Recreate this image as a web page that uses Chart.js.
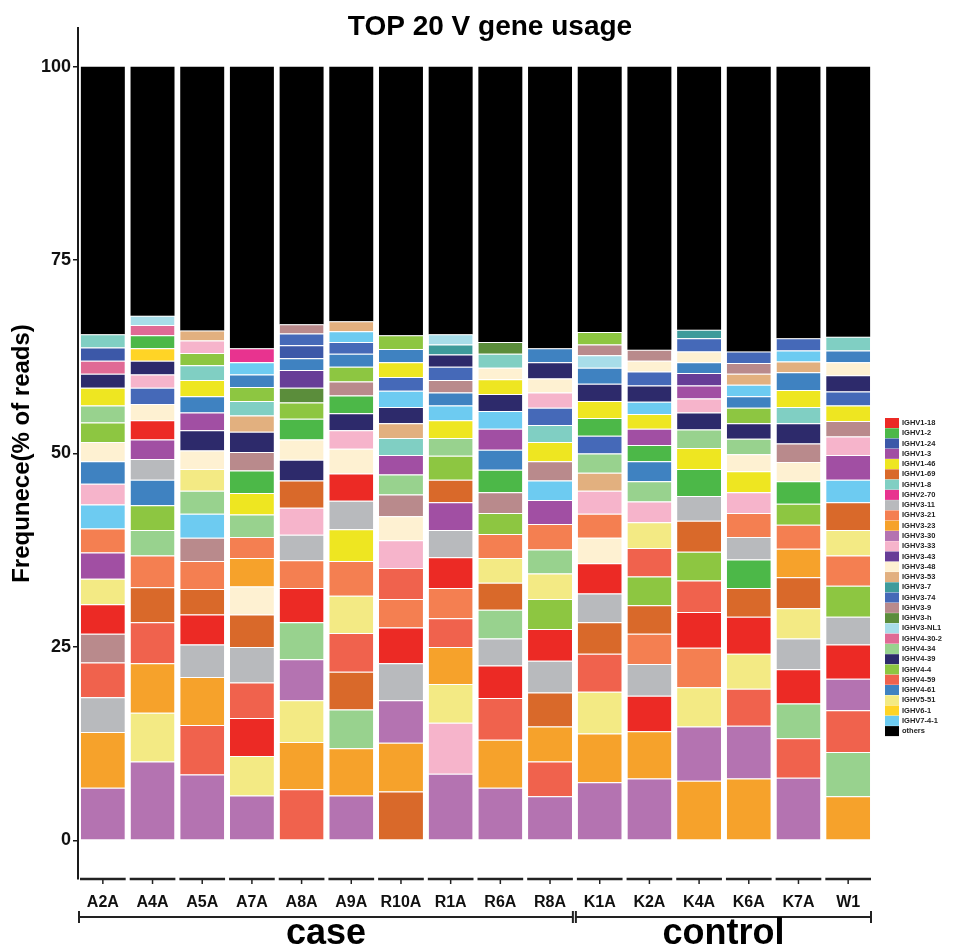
<!DOCTYPE html>
<html>
<head>
<meta charset="utf-8">
<title>TOP 20 V gene usage</title>
<script src="https://cdn.jsdelivr.net/npm/chart.js@4.4.1/dist/chart.umd.min.js"></script>
<style>
  html, body { margin: 0; padding: 0; background: #fff; }
  #wrap { position: relative; width: 967px; height: 946px; }
</style>
</head>
<body>
<div id="wrap"><canvas id="vgene" width="967" height="946"></canvas></div>
<script>
// samples and groups
var samples = ['A2A', 'A4A', 'A5A', 'A7A', 'A8A', 'A9A', 'R10A', 'R1A', 'R6A', 'R8A', 'K1A', 'K2A', 'K4A', 'K6A', 'K7A', 'W1'];
var groupNames = ['case', 'control'];
var groupStart = [0, 10];
var groupEnd = [9, 15];
var yTicks = [0, 25, 50, 75, 100];

// gene legend + colours
var genes = ['IGHV1-18', 'IGHV1-2', 'IGHV1-24', 'IGHV1-3', 'IGHV1-46', 'IGHV1-69', 'IGHV1-8', 'IGHV2-70',
  'IGHV3-11', 'IGHV3-21', 'IGHV3-23', 'IGHV3-30', 'IGHV3-33', 'IGHV3-43', 'IGHV3-48', 'IGHV3-53',
  'IGHV3-7', 'IGHV3-74', 'IGHV3-9', 'IGHV3-h', 'IGHV3-NL1', 'IGHV4-30-2', 'IGHV4-34', 'IGHV4-39',
  'IGHV4-4', 'IGHV4-59', 'IGHV4-61', 'IGHV5-51', 'IGHV6-1', 'IGHV7-4-1'];
var geneColors = ['#ec2a25', '#4cb848', '#3c58a8', '#a14fa3', '#eee621', '#d9692a', '#80cfc3', '#e8338f',
  '#b8babd', '#f47f51', '#f6a22b', '#b473b1', '#f6b4cb', '#673d97', '#fef1d2', '#e2b07f',
  '#3e9b9b', '#4569b8', '#b98a8c', '#5b8d3b', '#a8dde9', '#e06a95', '#98d28e', '#2d2a6b',
  '#8dc641', '#f0624d', '#3f82c1', '#f3ea84', '#ffd426', '#6dcbf1'];

// per sample, bottom to top: [gene, % of reads]
var A2A = [['IGHV3-30', 6.8], ['IGHV3-23', 7.2], ['IGHV3-11', 4.5], ['IGHV4-59', 4.5], ['IGHV3-9', 3.7], ['IGHV1-18', 3.8], ['IGHV5-51', 3.3], ['IGHV1-3', 3.4], ['IGHV3-21', 3.1], ['IGHV7-4-1', 3.1], ['IGHV3-33', 2.7], ['IGHV4-61', 2.9], ['IGHV3-48', 2.5], ['IGHV4-4', 2.5], ['IGHV4-34', 2.2], ['IGHV1-46', 2.3], ['IGHV4-39', 1.8], ['IGHV4-30-2', 1.7], ['IGHV1-24', 1.7], ['IGHV1-8', 1.7]];
var A4A = [['IGHV3-30', 10.2], ['IGHV5-51', 6.3], ['IGHV3-23', 6.4], ['IGHV4-59', 5.3], ['IGHV1-69', 4.5], ['IGHV3-21', 4.1], ['IGHV4-34', 3.3], ['IGHV4-4', 3.2], ['IGHV4-61', 3.3], ['IGHV3-11', 2.7], ['IGHV1-3', 2.5], ['IGHV1-18', 2.5], ['IGHV3-48', 2.1], ['IGHV3-74', 2.1], ['IGHV3-33', 1.7], ['IGHV4-39', 1.8], ['IGHV6-1', 1.6], ['IGHV1-2', 1.7], ['IGHV4-30-2', 1.3], ['IGHV3-NL1', 1.2]];
var A5A = [['IGHV3-30', 8.5], ['IGHV4-59', 6.4], ['IGHV3-23', 6.2], ['IGHV3-11', 4.2], ['IGHV1-18', 3.9], ['IGHV1-69', 3.3], ['IGHV3-21', 3.6], ['IGHV3-9', 3.0], ['IGHV7-4-1', 3.1], ['IGHV4-34', 3.0], ['IGHV5-51', 2.8], ['IGHV3-48', 2.4], ['IGHV4-39', 2.6], ['IGHV1-3', 2.3], ['IGHV4-61', 2.1], ['IGHV1-46', 2.1], ['IGHV1-8', 1.9], ['IGHV4-4', 1.6], ['IGHV3-33', 1.6], ['IGHV3-53', 1.3]];
var A7A = [['IGHV3-30', 5.8], ['IGHV5-51', 5.1], ['IGHV1-18', 4.9], ['IGHV4-59', 4.6], ['IGHV3-11', 4.6], ['IGHV1-69', 4.2], ['IGHV3-48', 3.6], ['IGHV3-23', 3.7], ['IGHV3-21', 2.7], ['IGHV4-34', 2.9], ['IGHV1-46', 2.8], ['IGHV1-2', 2.9], ['IGHV3-9', 2.4], ['IGHV4-39', 2.6], ['IGHV3-53', 2.1], ['IGHV1-8', 1.9], ['IGHV4-4', 1.8], ['IGHV4-61', 1.6], ['IGHV7-4-1', 1.6], ['IGHV2-70', 1.8]];
var A8A = [['IGHV4-59', 6.6], ['IGHV3-23', 6.1], ['IGHV5-51', 5.4], ['IGHV3-30', 5.3], ['IGHV4-34', 4.8], ['IGHV1-18', 4.4], ['IGHV3-21', 3.6], ['IGHV3-11', 3.3], ['IGHV3-33', 3.5], ['IGHV1-69', 3.5], ['IGHV4-39', 2.7], ['IGHV3-48', 2.6], ['IGHV1-2', 2.7], ['IGHV4-4', 2.1], ['IGHV3-h', 1.9], ['IGHV3-43', 2.3], ['IGHV4-61', 1.5], ['IGHV1-24', 1.7], ['IGHV3-74', 1.5], ['IGHV3-9', 1.2]];
var A9A = [['IGHV3-30', 5.8], ['IGHV3-23', 6.1], ['IGHV4-34', 5.0], ['IGHV1-69', 4.9], ['IGHV4-59', 5.0], ['IGHV5-51', 4.8], ['IGHV3-21', 4.5], ['IGHV1-46', 4.1], ['IGHV3-11', 3.7], ['IGHV1-18', 3.5], ['IGHV3-48', 3.2], ['IGHV3-33', 2.4], ['IGHV4-39', 2.2], ['IGHV1-2', 2.3], ['IGHV3-9', 1.8], ['IGHV4-4', 1.9], ['IGHV4-61', 1.7], ['IGHV3-74', 1.5], ['IGHV7-4-1', 1.4], ['IGHV3-53', 1.3]];
var R10A = [['IGHV1-69', 6.3], ['IGHV3-23', 6.3], ['IGHV3-30', 5.5], ['IGHV3-11', 4.8], ['IGHV1-18', 4.6], ['IGHV3-21', 3.7], ['IGHV4-59', 4.0], ['IGHV3-33', 3.6], ['IGHV3-48', 3.1], ['IGHV3-9', 2.8], ['IGHV4-34', 2.6], ['IGHV1-3', 2.5], ['IGHV1-8', 2.2], ['IGHV3-53', 1.9], ['IGHV4-39', 2.1], ['IGHV7-4-1', 2.1], ['IGHV3-74', 1.8], ['IGHV1-46', 1.9], ['IGHV4-61', 1.7], ['IGHV4-4', 1.8]];
var R1A = [['IGHV3-30', 8.6], ['IGHV3-33', 6.6], ['IGHV5-51', 5.0], ['IGHV3-23', 4.8], ['IGHV4-59', 3.7], ['IGHV3-21', 3.9], ['IGHV1-18', 4.0], ['IGHV3-11', 3.5], ['IGHV1-3', 3.6], ['IGHV1-69', 2.9], ['IGHV4-4', 3.1], ['IGHV4-34', 2.3], ['IGHV1-46', 2.3], ['IGHV7-4-1', 1.9], ['IGHV4-61', 1.7], ['IGHV3-9', 1.6], ['IGHV3-74', 1.7], ['IGHV4-39', 1.6], ['IGHV3-7', 1.3], ['IGHV3-NL1', 1.3]];
var R6A = [['IGHV3-30', 6.8], ['IGHV3-23', 6.2], ['IGHV4-59', 5.4], ['IGHV1-18', 4.2], ['IGHV3-11', 3.5], ['IGHV4-34', 3.7], ['IGHV1-69', 3.5], ['IGHV5-51', 3.2], ['IGHV3-21', 3.1], ['IGHV4-4', 2.7], ['IGHV3-9', 2.7], ['IGHV1-2', 2.9], ['IGHV4-61', 2.6], ['IGHV1-3', 2.7], ['IGHV7-4-1', 2.3], ['IGHV4-39', 2.2], ['IGHV1-46', 1.9], ['IGHV3-48', 1.5], ['IGHV1-8', 1.8], ['IGHV3-h', 1.5]];
var R8A = [['IGHV3-30', 5.7], ['IGHV4-59', 4.5], ['IGHV3-23', 4.5], ['IGHV1-69', 4.4], ['IGHV3-11', 4.1], ['IGHV1-18', 4.1], ['IGHV4-4', 3.9], ['IGHV5-51', 3.3], ['IGHV4-34', 3.1], ['IGHV3-21', 3.3], ['IGHV1-3', 3.1], ['IGHV7-4-1', 2.5], ['IGHV3-9', 2.5], ['IGHV1-46', 2.5], ['IGHV1-8', 2.2], ['IGHV3-74', 2.2], ['IGHV3-33', 2.0], ['IGHV3-48', 1.8], ['IGHV4-39', 2.1], ['IGHV4-61', 1.8]];
var K1A = [['IGHV3-30', 7.5], ['IGHV3-23', 6.3], ['IGHV5-51', 5.4], ['IGHV4-59', 4.9], ['IGHV1-69', 4.1], ['IGHV3-11', 3.7], ['IGHV1-18', 3.9], ['IGHV3-48', 3.3], ['IGHV3-21', 3.1], ['IGHV3-33', 3.0], ['IGHV3-53', 2.3], ['IGHV4-34', 2.5], ['IGHV3-74', 2.3], ['IGHV1-2', 2.3], ['IGHV1-46', 2.2], ['IGHV4-39', 2.2], ['IGHV4-61', 2.1], ['IGHV3-NL1', 1.6], ['IGHV3-9', 1.4], ['IGHV4-4', 1.6]];
var K2A = [['IGHV3-30', 8.0], ['IGHV3-23', 6.1], ['IGHV1-18', 4.6], ['IGHV3-11', 4.1], ['IGHV3-21', 3.9], ['IGHV1-69', 3.7], ['IGHV4-4', 3.7], ['IGHV4-59', 3.7], ['IGHV5-51', 3.3], ['IGHV3-33', 2.7], ['IGHV4-34', 2.6], ['IGHV4-61', 2.6], ['IGHV1-2', 2.1], ['IGHV1-3', 2.1], ['IGHV1-46', 1.9], ['IGHV7-4-1', 1.6], ['IGHV4-39', 2.1], ['IGHV3-74', 1.8], ['IGHV3-48', 1.4], ['IGHV3-9', 1.4]];
var K4A = [['IGHV3-23', 7.7], ['IGHV3-30', 7.0], ['IGHV5-51', 5.1], ['IGHV3-21', 5.1], ['IGHV1-18', 4.6], ['IGHV4-59', 4.1], ['IGHV4-4', 3.7], ['IGHV1-69', 4.0], ['IGHV3-11', 3.2], ['IGHV1-2', 3.5], ['IGHV1-46', 2.7], ['IGHV4-34', 2.4], ['IGHV4-39', 2.2], ['IGHV3-33', 1.8], ['IGHV1-3', 1.7], ['IGHV3-43', 1.6], ['IGHV4-61', 1.4], ['IGHV3-48', 1.4], ['IGHV3-74', 1.7], ['IGHV3-7', 1.1]];
var K6A = [['IGHV3-23', 8.0], ['IGHV3-30', 6.8], ['IGHV4-59', 4.8], ['IGHV5-51', 4.5], ['IGHV1-18', 4.8], ['IGHV1-69', 3.7], ['IGHV1-2', 3.7], ['IGHV3-11', 2.9], ['IGHV3-21', 3.1], ['IGHV3-33', 2.7], ['IGHV1-46', 2.7], ['IGHV3-48', 2.2], ['IGHV4-34', 2.0], ['IGHV4-39', 2.0], ['IGHV4-4', 2.0], ['IGHV4-61', 1.5], ['IGHV7-4-1', 1.5], ['IGHV3-53', 1.4], ['IGHV3-9', 1.4], ['IGHV3-74', 1.5]];
var K7A = [['IGHV3-30', 8.1], ['IGHV4-59', 5.1], ['IGHV4-34', 4.5], ['IGHV1-18', 4.4], ['IGHV3-11', 4.0], ['IGHV5-51', 3.9], ['IGHV1-69', 4.0], ['IGHV3-23', 3.7], ['IGHV3-21', 3.1], ['IGHV4-4', 2.7], ['IGHV1-2', 2.9], ['IGHV3-48', 2.5], ['IGHV3-9', 2.4], ['IGHV4-39', 2.6], ['IGHV1-8', 2.1], ['IGHV1-46', 2.2], ['IGHV4-61', 2.3], ['IGHV3-53', 1.4], ['IGHV7-4-1', 1.4], ['IGHV3-74', 1.6]];
var W1 = [['IGHV3-23', 5.7], ['IGHV4-34', 5.7], ['IGHV4-59', 5.4], ['IGHV3-30', 4.1], ['IGHV1-18', 4.4], ['IGHV3-11', 3.6], ['IGHV4-4', 4.0], ['IGHV3-21', 3.9], ['IGHV5-51', 3.3], ['IGHV1-69', 3.6], ['IGHV7-4-1', 2.9], ['IGHV1-3', 3.2], ['IGHV3-33', 2.4], ['IGHV3-9', 2.0], ['IGHV1-46', 2.0], ['IGHV3-74', 1.8], ['IGHV4-39', 2.1], ['IGHV3-48', 1.7], ['IGHV4-61', 1.5], ['IGHV1-8', 1.8]];
var others = [34.6, 32.2, 34.1, 36.4, 33.3, 32.9, 34.7, 34.6, 35.6, 36.4, 34.3, 36.6, 34.0, 36.8, 35.1, 34.9];

var stacks = [A2A, A4A, A5A, A7A, A8A, A9A, R10A, R1A, R6A, R8A, K1A, K2A, K4A, K6A, K7A, W1];
var FONT = '"Liberation Sans", Arial, Helvetica, sans-serif';

function colorOf(g) {
    return geneColors[genes.indexOf(g)];
}

// one dataset per rank so each bar can keep its own order
var datasets = [];
for (var k = 0; k < 20; k++) {
    datasets.push({
        label: 'rank ' + (k + 1),
        data: stacks.map(s => s[k][1]),
        backgroundColor: stacks.map(s => colorOf(s[k][0])),
        borderColor: 'rgba(255,255,255,0.85)',
        borderWidth: {top: 1}
    });
}
datasets.push({label: 'others', data: others, backgroundColor: '#000000'});

var decor = {
    id: 'decor',
    afterDraw: function(chart) {
        var ctx = chart.ctx;
        var xs = chart.scales.x;
        var area = chart.chartArea;
        var step = xs.getPixelForValue(1) - xs.getPixelForValue(0);
        ctx.save();

        // title
        ctx.fillStyle = '#000';
        ctx.font = 'bold 28px ' + FONT;
        ctx.textAlign = 'center';
        ctx.textBaseline = 'middle';
        ctx.fillText('TOP 20 V gene usage', 490, 27);

        // x axis drawn as one segment per sample
        ctx.strokeStyle = '#222';
        samples.forEach(function(s, i) {
            var cx = xs.getPixelForValue(i);
            ctx.lineWidth = 2.5;
            ctx.beginPath();
            ctx.moveTo(cx - step / 2 + 2, area.bottom);
            ctx.lineTo(cx + step / 2 - 2, area.bottom);
            ctx.stroke();
            ctx.lineWidth = 1.5;
            ctx.beginPath();
            ctx.moveTo(cx, area.bottom);
            ctx.lineTo(cx, area.bottom + 5);
            ctx.stroke();
        });

        // group brackets
        var by = 917;
        groupNames.forEach(function(name, g) {
            var x0 = xs.getPixelForValue(groupStart[g]) - step / 2 + 1;
            var x1 = xs.getPixelForValue(groupEnd[g]) + step / 2 - 2;
            ctx.lineWidth = 2;
            ctx.beginPath();
            ctx.moveTo(x0, by);
            ctx.lineTo(x1, by);
            ctx.moveTo(x0, by - 6);
            ctx.lineTo(x0, by + 6);
            ctx.moveTo(x1, by - 6);
            ctx.lineTo(x1, by + 6);
            ctx.stroke();
            ctx.font = 'bold 36px ' + FONT;
            ctx.textBaseline = 'alphabetic';
            ctx.fillText(name, (x0 + x1) / 2, 944);
        });

        // legend
        var items = genes.concat(['others']);
        var cols = geneColors.concat(['#000000']);
        ctx.font = 'bold 7.5px ' + FONT;
        ctx.textAlign = 'left';
        ctx.textBaseline = 'middle';
        items.forEach(function(name, i) {
            var y = 423 + i * 10.27;
            ctx.fillStyle = cols[i];
            ctx.fillRect(885, y - 5, 14, 10);
            ctx.fillStyle = '#222';
            ctx.fillText(name, 902, y);
        });
        ctx.restore();
    }
};

var chart = new Chart(document.getElementById('vgene'), {
    type: 'bar',
    data: {
        labels: samples,
        datasets: datasets
    },
    plugins: [decor],
    options: {
        responsive: false,
        animation: false,
        devicePixelRatio: 1,
        layout: {padding: {top: 28, right: 94, left: 0, bottom: 0}},
        datasets: {bar: {categoryPercentage: 1, barPercentage: 0.885}},
        plugins: {
            legend: {display: false},
            tooltip: {enabled: false},
            title: {display: false}
        },
        scales: {
            x: {
                stacked: true,
                offset: true,
                grid: {display: false, drawTicks: false},
                border: {display: false},
                ticks: {color: '#111', font: {family: FONT, size: 16, weight: 'bold'}, padding: 14, maxRotation: 0, autoSkip: false},
                afterFit: function(s) { s.height = 67; }
            },
            y: {
                stacked: true,
                min: -5,
                max: 105,
                afterBuildTicks: function(s) { s.ticks = yTicks.map(v => ({value: v})); },
                afterFit: function(s) { s.width = 78; },
                border: {display: true, color: '#1a1a1a', width: 2},
                grid: {drawOnChartArea: false, drawTicks: true, tickLength: 5, color: '#1a1a1a', lineWidth: 1.5},
                ticks: {color: '#111', font: {family: FONT, size: 18, weight: 'bold'}, padding: 2},
                title: {
                    display: true,
                    text: 'Frequnece(% of reads)',
                    color: '#000',
                    font: {family: FONT, size: 24, weight: 'bold'},
                    padding: {top: 8, bottom: 0}
                }
            }
        }
    }
});
</script>
</body>
</html>
